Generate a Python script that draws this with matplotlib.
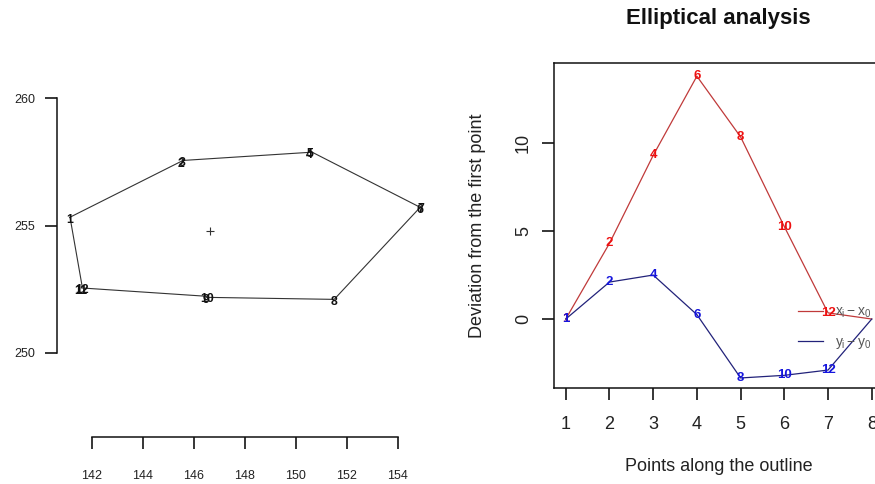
import matplotlib
matplotlib.use("Agg")
import matplotlib.pyplot as plt
from matplotlib.lines import Line2D
from matplotlib import transforms

plt.rcParams['font.family'] = ['Liberation Sans', 'DejaVu Sans']
plt.rcParams['mathtext.fontset'] = 'custom'
plt.rcParams['mathtext.rm'] = 'Liberation Sans'
plt.rcParams['mathtext.it'] = 'Liberation Sans'

# ---- data: outline (left panel) ----
outline_x = [141.15, 145.50, 145.56, 150.54, 150.58, 154.88, 154.92, 151.51, 146.49, 146.53, 141.59, 141.63]
outline_y = [255.33, 257.52, 257.56, 257.88, 257.92, 255.72, 255.76, 252.10, 252.18, 252.22, 252.55, 252.59]
outline_labels = ["1", "2", "3", "4", "5", "6", "7", "8", "9", "10", "11", "12"]
centroid_x = [146.64]
centroid_y = [254.80]
left_xticks = [142, 144, 146, 148, 150, 152, 154]
left_yticks = [250, 255, 260]

# ---- data: elliptical analysis (right panel) ----
points = [1, 2, 3, 4, 5, 6, 7, 8]
dev_x = [0.0, 4.3, 9.3, 13.8, 10.35, 5.25, 0.35, 0.0]
dev_y = [0.0, 2.1, 2.5, 0.25, -3.35, -3.2, -2.9, 0.0]
point_labels = ["1", "2", "4", "6", "8", "10", "12", ""]
right_yticks = [0, 5, 10]

W, H = 875, 484
fig = plt.figure(figsize=(W / 100, H / 100), dpi=100)

def px_axes(l, t, r, b):
    return fig.add_axes([l / W, 1 - b / H, (r - l) / W, (b - t) / H])

txt = '#222222'

# ================= left panel =================
axL = px_axes(57, 60, 440, 437)
axL.set_xlim(140.64, 155.66)
axL.set_ylim(246.69, 261.51)
closed_x = outline_x + outline_x[:1]
closed_y = outline_y + outline_y[:1]
axL.plot(closed_x, closed_y, color='#333333', lw=0.8)
off = transforms.offset_copy(axL.transData, fig=fig, x=0, y=-2, units='points')
for xv, yv, lab in zip(outline_x, outline_y, outline_labels):
    axL.text(xv, yv, lab, transform=off, ha='center', va='center',
             fontsize=8.8, fontweight='bold', color='#111111')
axL.plot(centroid_x, centroid_y, marker='+', color='#333333', ms=6, mew=0.8, ls='none')

for s in ['top', 'right']:
    axL.spines[s].set_visible(False)
axL.spines['left'].set_bounds(250, 260)
axL.spines['bottom'].set_bounds(142, 154)
for s in ['left', 'bottom']:
    axL.spines[s].set_linewidth(1.1)
    axL.spines[s].set_color('#111111')
axL.set_xticks(left_xticks)
axL.set_yticks(left_yticks)
axL.tick_params(axis='y', length=8.5, width=1.1, pad=7, labelsize=9, labelcolor=txt)
axL.tick_params(axis='x', length=8.5, width=1.1, pad=15, labelsize=9, labelcolor=txt)
axL.patch.set_visible(False)

# ================= right panel =================
axR = px_axes(553.5, 63, 884, 388)
axR.set_xlim(0.72, 8.28)
axR.set_ylim(-3.92, 14.55)
red_line, red_txt = '#c03a3a', '#ee1111'
blue_line, blue_txt = '#22227a', '#1515dd'
axR.plot(points, dev_x, color=red_line, lw=0.9)
for xv, yv, lab in zip(points, dev_x, point_labels):
    axR.text(xv, yv, lab, ha='center', va='center', fontsize=9.5,
             fontweight='bold', color=red_txt)
axR.plot(points, dev_y, color=blue_line, lw=0.9)
for xv, yv, lab in zip(points, dev_y, point_labels):
    axR.text(xv, yv, lab, ha='center', va='center', fontsize=9.5,
             fontweight='bold', color=blue_txt)

axR.set_xticks(points)
axR.set_yticks(right_yticks)
for s in axR.spines.values():
    s.set_linewidth(1.1)
    s.set_color('#111111')
axR.tick_params(axis='x', length=8.5, width=1.1, pad=12, labelsize=13, labelcolor=txt)
axR.tick_params(axis='y', length=8.5, width=1.1, pad=7, labelsize=13, labelcolor=txt,
                labelrotation=90)
for lab in axR.get_yticklabels():
    lab.set_va('center')
axR.set_xlabel('Points along the outline', fontsize=13, color=txt, labelpad=18)
axR.set_ylabel('Deviation from the first point', fontsize=13, color=txt, labelpad=21)
axR.set_title('Elliptical analysis', fontsize=16, fontweight='bold', color='#111111', pad=28)

handles = [Line2D([], [], color=red_line, lw=0.9),
           Line2D([], [], color=blue_line, lw=0.9)]
leg = axR.legend(handles, [r'$x_i - x_0$', r'$y_i - y_0$'], frameon=False,
                 loc='center left', bbox_to_anchor=((798 - 553.5) / 330.5, (388 - 328) / 325),
                 borderaxespad=0, borderpad=0,
                 fontsize=10, handlelength=1.8, handletextpad=0.85, labelspacing=1.1)
for t in leg.get_texts():
    t.set_color('#555555')

fig.savefig('out.png', dpi=100)
